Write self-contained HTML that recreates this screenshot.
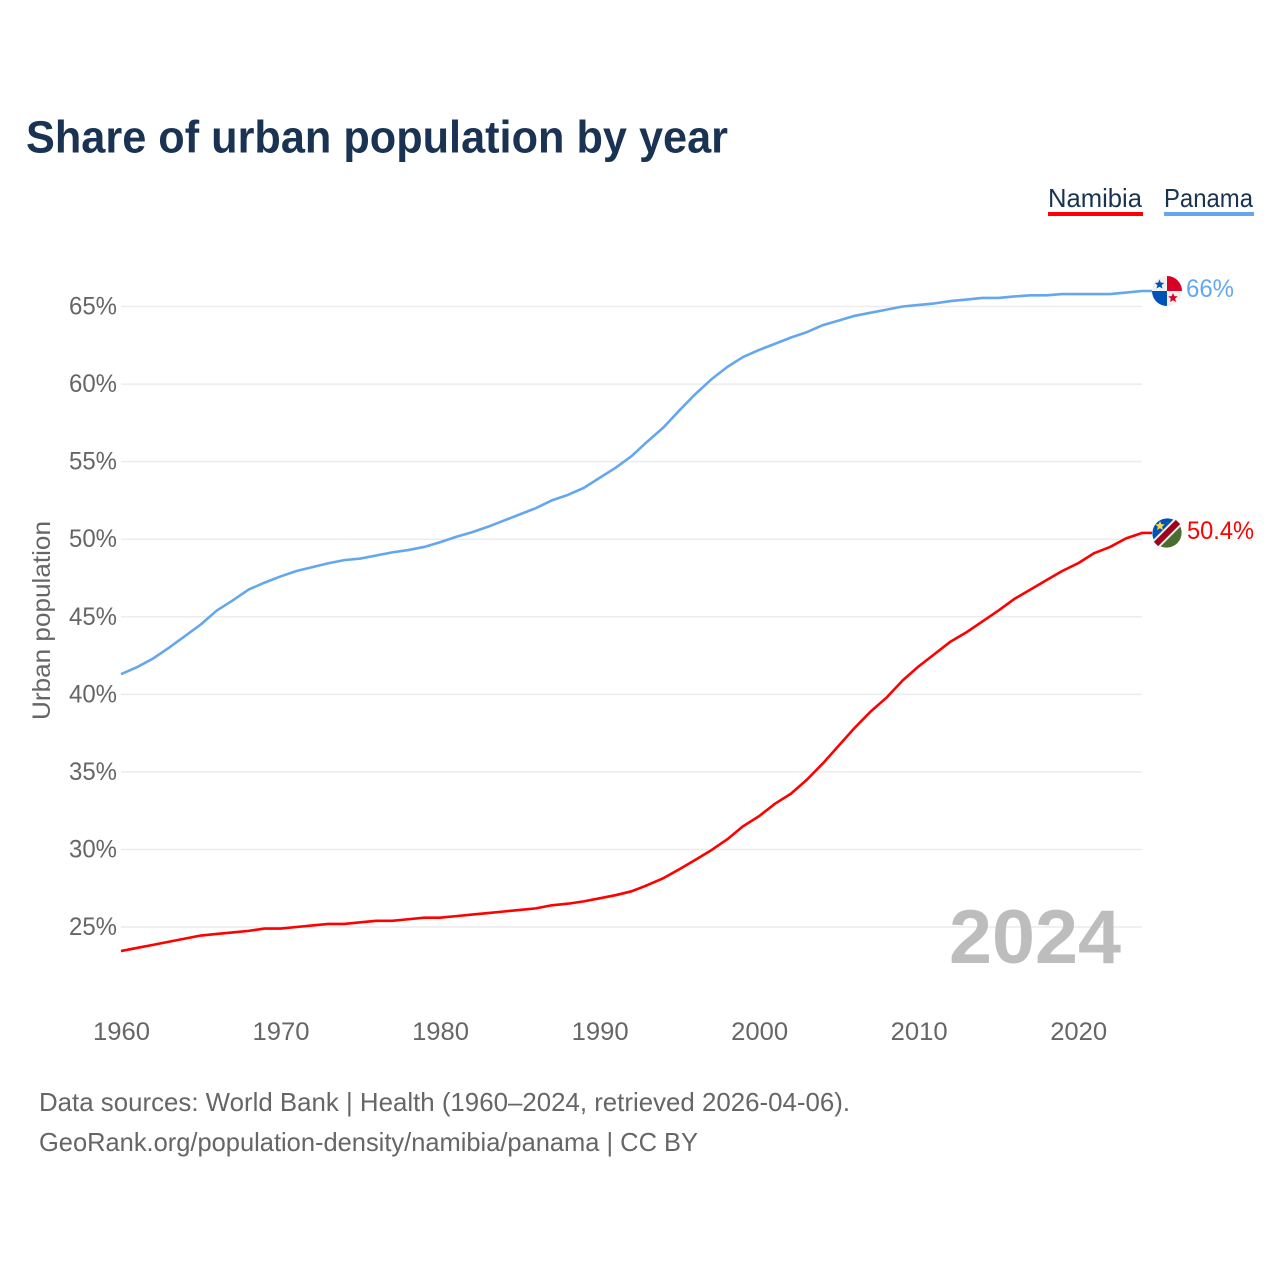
<!DOCTYPE html>
<html lang="en">
<head>
<meta charset="utf-8">
<title>Share of urban population by year</title>
<style>
html,body{margin:0;padding:0;background:#fff;}
svg{display:block;font-family:"Liberation Sans",sans-serif;}
</style>
</head>
<body>
<svg id="chart" width="1280" height="1280" viewBox="0 0 1280 1280" xmlns="http://www.w3.org/2000/svg">
  <rect width="1280" height="1280" fill="#fff"/>
  <text x="26" y="152.5" font-size="45" font-weight="700" fill="#1a3353" textLength="702" lengthAdjust="spacingAndGlyphs">Share of urban population by year</text>

  <g>
    <text x="1048" y="207" font-size="26" fill="#1a3353" textLength="94" lengthAdjust="spacingAndGlyphs">Namibia</text>
    <rect x="1048" y="212" width="95" height="4" fill="#ff0000"/>
  </g>
  <g>
    <text x="1164" y="207" font-size="26" fill="#1a3353" textLength="89" lengthAdjust="spacingAndGlyphs">Panama</text>
    <rect x="1164" y="212" width="90" height="4" fill="#65a7ef"/>
  </g>

  <g id="grid"></g>
  <g id="y-ticks"></g>
  <g id="x-ticks"></g>

  <text transform="translate(50,620.5) rotate(-90)" text-anchor="middle" font-size="25" fill="#666" textLength="199" lengthAdjust="spacingAndGlyphs">Urban population</text>

  <text x="949" y="963" font-size="76" font-weight="700" fill="#bdbdbd" textLength="172" lengthAdjust="spacingAndGlyphs">2024</text>

  <g id="series"></g>
  <g id="end-markers"></g>

  <text x="39" y="1111" font-size="26" fill="#666" textLength="811" lengthAdjust="spacingAndGlyphs">Data sources: World Bank | Health (1960–2024, retrieved 2026-04-06).</text>
  <text x="39" y="1151" font-size="26" fill="#666" textLength="659" lengthAdjust="spacingAndGlyphs">GeoRank.org/population-density/namibia/panama | CC BY</text>
</svg>
<script>
const startYear = 1960;
const yTicks = [25, 30, 35, 40, 45, 50, 55, 60, 65];
const xTicks = [1960, 1970, 1980, 1990, 2000, 2010, 2020];
const namibiaValues = [
  23.45, 23.65, 23.85, 24.05, 24.25, 24.45, 24.55, 24.65, 24.75, 24.9,
  24.9, 25.0, 25.1, 25.2, 25.2, 25.3, 25.4, 25.4, 25.5, 25.6,
  25.6, 25.7, 25.8, 25.9, 26.0, 26.1, 26.2, 26.4, 26.5, 26.65,
  26.85, 27.05, 27.3, 27.7, 28.15, 28.72, 29.33, 29.95, 30.65, 31.5,
  32.15, 32.95, 33.6, 34.5, 35.55, 36.7, 37.85, 38.9, 39.8, 40.9,
  41.8, 42.6, 43.4, 44.0, 44.7, 45.4, 46.15, 46.75, 47.35, 47.95,
  48.45, 49.1, 49.5, 50.05, 50.4
];
const panamaValues = [
  41.3, 41.75, 42.3, 43.0, 43.75, 44.5, 45.4, 46.05, 46.75, 47.2,
  47.6, 47.95, 48.2, 48.45, 48.65, 48.75, 48.95, 49.15, 49.3, 49.5,
  49.8, 50.15, 50.45, 50.8, 51.2, 51.6, 52.0, 52.5, 52.85, 53.3,
  53.95, 54.6, 55.35, 56.3, 57.2, 58.3, 59.35, 60.3, 61.1, 61.75,
  62.2, 62.6, 63.0, 63.35, 63.8, 64.1, 64.4, 64.6, 64.8, 65.0,
  65.1, 65.2, 65.35, 65.45, 65.55, 65.55, 65.65, 65.72, 65.72, 65.8,
  65.8, 65.8, 65.8, 65.9, 66.0
];
const namibiaLabel = "50.4%";
const panamaLabel = "66%";

const NS = "http://www.w3.org/2000/svg";
function xScale(year) { return 121 + (year - 1960) * (1142 - 121) / 64; }
function yScale(value) { return 927 - (value - 25) * (927 - 306.5) / 40; }
function make(parent, tag, attrs) {
  const el = document.createElementNS(NS, tag);
  for (const k in attrs) el.setAttribute(k, attrs[k]);
  parent.appendChild(el);
  return el;
}

const gridGroup = document.getElementById("grid");
const yTickGroup = document.getElementById("y-ticks");
yTicks.forEach(function (v) {
  const line = make(gridGroup, "line", { x1: 121, x2: 1142, y1: yScale(v), y2: yScale(v), stroke: "#ececec", "stroke-width": 1.5 });
  
  
  const label = make(yTickGroup, "text", { x: 117, y: yScale(v) + 8, "text-anchor": "end", "font-size": 25, fill: "#666", textLength: 48, lengthAdjust: "spacingAndGlyphs" });
  label.textContent = v + "%";
  
  
});

const xTickGroup = document.getElementById("x-ticks");
xTicks.forEach(function (t) {
  const label = make(xTickGroup, "text", { x: xScale(t) + 0.5, y: 1040, "text-anchor": "middle", "font-size": 25, fill: "#666", textLength: 57, lengthAdjust: "spacingAndGlyphs" });
  label.textContent = String(t);
  
  
});

function drawSeries(values, color) {
  const pts = values.map(function (v, i) { return xScale(startYear + i).toFixed(2) + "," + yScale(v).toFixed(2); });
  const last = values[values.length - 1];
  pts.push("1152," + yScale(last).toFixed(2));
  const line = make(document.getElementById("series"), "polyline", { points: pts.join(" "), fill: "none", stroke: color, "stroke-width": 2.6, "stroke-linejoin": "round" });
  return line;
}
const panamaLine = drawSeries(panamaValues, "#65a7ef");


const namibiaLine = drawSeries(namibiaValues, "#ff0000");



function star(cx, cy, r, fill, parent) {
  const p = [];
  for (let i = 0; i < 10; i++) {
    const a = -Math.PI / 2 + i * Math.PI / 5;
    const rr = i % 2 ? r * 0.45 : r;
    p.push((cx + rr * Math.cos(a)).toFixed(2) + "," + (cy + rr * Math.sin(a)).toFixed(2));
  }
  return make(parent, "polygon", { points: p.join(" "), fill: fill });
}

const markers = document.getElementById("end-markers");
const flagX = 1167;

// Panama flag and end label
const py = yScale(panamaValues[panamaValues.length - 1]);
const panamaFlag = make(markers, "g", { transform: "translate(" + flagX + "," + py + ")" });


make(panamaFlag, "circle", { r: 15, fill: "#f0f0f0" });
make(panamaFlag, "path", { d: "M0,0V-15A15,15 0 0 1 15,0Z", fill: "#d80027" });
make(panamaFlag, "path", { d: "M0,0V15A15,15 0 0 1 -15,0Z", fill: "#0052b4" });
star(-7.5, -6.5, 5, "#0052b4", panamaFlag);
star(6, 7, 5, "#d80027", panamaFlag);
const panamaEnd = make(markers, "text", { x: 1186, y: py + 6, "font-size": 25, fill: "#65a7ef", textLength: 48, lengthAdjust: "spacingAndGlyphs" });
panamaEnd.textContent = panamaLabel;



// Namibia flag and end label
const ny = yScale(namibiaValues[namibiaValues.length - 1]);
const namibiaFlag = make(markers, "g", { transform: "translate(" + flagX + "," + ny + ")" });


make(namibiaFlag, "path", { d: "M-10.6,10.6A15,15 0 0 1 10.6,-10.6Z", fill: "#0052b4" });
make(namibiaFlag, "path", { d: "M-10.6,10.6A15,15 0 0 0 10.6,-10.6Z", fill: "#496e2d" });
make(namibiaFlag, "line", { x1: -11, y1: 11, x2: 11, y2: -11, stroke: "#f0f0f0", "stroke-width": 10 });
make(namibiaFlag, "line", { x1: -11, y1: 11, x2: 11, y2: -11, stroke: "#a2001d", "stroke-width": 6 });
star(-7, -7, 5, "#ffda44", namibiaFlag);
const namibiaEnd = make(markers, "text", { x: 1187, y: ny + 6, "font-size": 25, fill: "#ff0000", textLength: 67, lengthAdjust: "spacingAndGlyphs" });
namibiaEnd.textContent = namibiaLabel;


</script>
</body>
</html>
